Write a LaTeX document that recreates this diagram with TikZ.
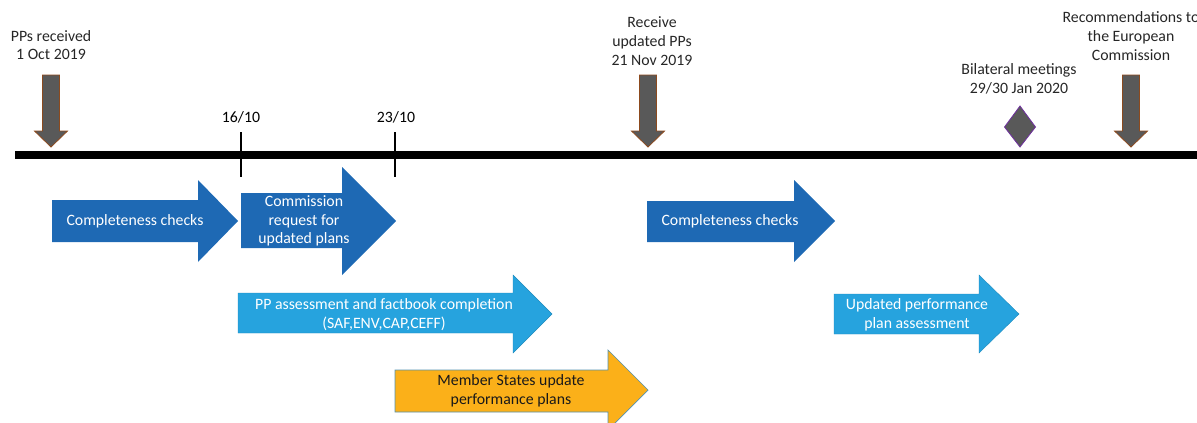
\documentclass[tikz,border=0pt]{standalone}
\usepackage{fontspec}
\setmainfont{Carlito}
\usetikzlibrary{positioning, arrows.meta, calc}
\definecolor{deepblue}{HTML}{1E69B4}
\definecolor{skyblue}{HTML}{26A3DE}
\definecolor{amber}{HTML}{FBB019}
\definecolor{slate}{HTML}{595959}
\definecolor{rust}{HTML}{8C4A1E}
\definecolor{plum}{HTML}{7030A0}
\definecolor{inkgray}{HTML}{262626}
\tikzset{
  milestone/.style = {font=\fontsize{15.8}{18.8}\selectfont, text=inkgray,
                      align=center, inner sep=0pt},
  datelbl/.style   = {font=\fontsize{15.8}{18.8}\selectfont, text=black,
                      inner sep=0pt},
  steptxt/.style   = {font=\fontsize{15.8}{18.8}\selectfont, text=white,
                      align=center, inner sep=0pt},
  darkstep/.style  = {fill=deepblue},
  lightstep/.style = {fill=skyblue, draw=skyblue!85!black, line width=0.4pt},
  msstep/.style    = {fill=amber, draw=skyblue!50!gray, line width=0.7pt},
  timeline/.style  = {line width=7.5pt, draw=black},
  tickmark/.style  = {line width=2.4pt, draw=black},
  meeting/.style   = {fill=slate, draw=plum, line width=0.8pt},
  downarr/.pic     = {\filldraw[fill=slate, draw=rust, line width=0.8pt]
                      (-8.5,0) -- (8.5,0) -- (8.5,56) -- (16.5,56) -- (0,72)
                      -- (-16.5,56) -- (-8.5,56) -- cycle;},
}

\begin{document}
\begin{tikzpicture}[x=1pt, y=-1pt]
  \useasboundingbox (0,0) rectangle (1197,423);

  % timeline
  \coordinate (tlstart) at (15,155);
  \coordinate (tlend) at (1197,155);
  \draw[timeline] (tlstart) -- (tlend);

  % date ticks
  \coordinate (t16) at (241,155);
  \coordinate (t23) at (395,155);
  \draw[tickmark] ($(t16)+(0,-23)$) -- ($(t16)+(0,22)$);
  \draw[tickmark] ($(t23)+(0,-23)$) -- ($(t23)+(0,22)$);
  \node[datelbl] (d16) at (241,117) {16/10};
  \node[datelbl] (d23) at (396,117) {23/10};

  % milestones
  \pic at (51,75) {downarr};
  \node[milestone] (ms1) at (51,45) {PPs received\\1 Oct 2019};
  \pic at (648,75) {downarr};
  \node[milestone] (ms2) at (652,41) {Receive\\updated PPs\\21 Nov 2019};
  \pic at (1131,75) {downarr};
  \node[milestone] (ms3) at (1131,36) {Recommendations to\\the European\\Commission};
  \filldraw[meeting] (1020,106) -- (1035.5,127) -- (1020,147) -- (1004.5,127) -- cycle;
  \node[milestone] (ms4) at (1019,79) {Bilateral meetings\\29/30 Jan 2020};

  % phase arrows
  \fill[darkstep] (52,200) -- (198,200) -- (198,180) -- (238,221) -- (198,262)
                  -- (198,242) -- (52,242) -- cycle;
  \node[steptxt] (cc1) at (135,221) {Completeness checks};
  \fill[darkstep] (241,193) -- (342,193) -- (342,167) -- (396,221) -- (342,275)
                  -- (342,248) -- (241,248) -- cycle;
  \node[steptxt] (req) at (304,221) {Commission\\request for\\updated plans};
  \filldraw[lightstep] (238,293) -- (513,293) -- (513,275) -- (552,314) -- (513,353)
                  -- (513,333) -- (238,333) -- cycle;
  \node[steptxt] (pa) at (384,315) {PP assessment and factbook completion\\(SAF,ENV,CAP,CEFF)};
  \filldraw[msstep] (395,370) -- (608,370) -- (608,350) -- (648,390) -- (608,430)
                  -- (608,412) -- (395,412) -- cycle;
  \node[steptxt, text=black!90] (msu) at (511,391) {Member States update\\performance plans};
  \fill[darkstep] (647,201) -- (794,201) -- (794,180) -- (835,221) -- (794,262)
                  -- (794,242) -- (647,242) -- cycle;
  \node[steptxt] (cc2) at (730,221) {Completeness checks};
  \filldraw[lightstep] (834,294) -- (979,294) -- (979,275) -- (1019,314) -- (979,353)
                  -- (979,334) -- (834,334) -- cycle;
  \node[steptxt] (upa) at (917,315) {Updated performance\\plan assessment};

\end{tikzpicture}
\end{document}
